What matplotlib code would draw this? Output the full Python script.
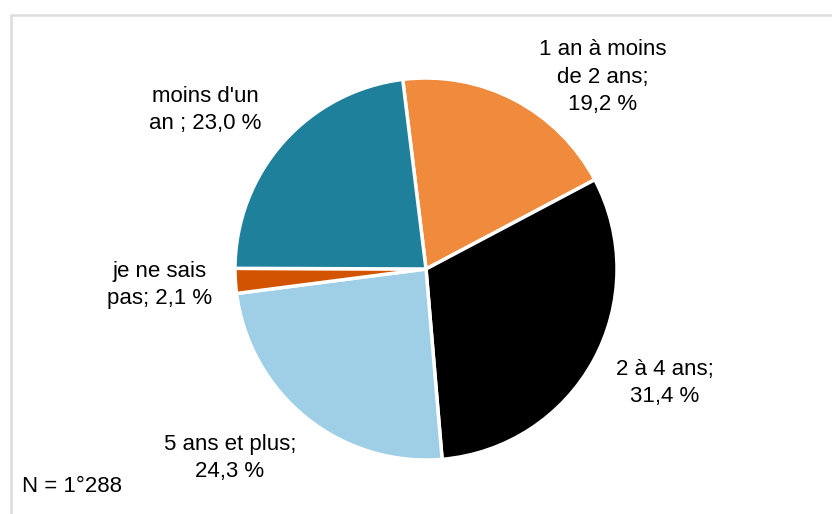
import matplotlib.pyplot as plt
from matplotlib.patches import Rectangle

# Données (ordre du graphique, sens horaire depuis le haut)
categories = ["1 an à moins\nde 2 ans;", "2 à 4 ans;", "5 ans et plus;",
              "je ne sais\npas;", "moins d'un\nan ;"]
valeurs = [19.2, 31.4, 24.3, 2.1, 23.0]
couleurs = ["#F08A3C", "#000000", "#9ECFE6", "#D35400", "#1F809B"]
# valeur sur une nouvelle ligne ou non
saut_ligne = [True, True, True, False, False]
note_n = "N = 1\u00b0288"

# position des étiquettes (en pixels, origine en haut à gauche)
pos_etiquettes = [(603, 77), (665, 383), (230, 458), (160, 285), (205, 110)]

W, H = 832, 514
fig = plt.figure(figsize=(W / 100, H / 100), dpi=100)
ax = fig.add_axes([0, 0, 1, 1])
ax.set_aspect("equal")
ax.axis("off")

ax.pie(valeurs, colors=couleurs, startangle=97, counterclock=False,
       center=(426, H - 269), radius=191,
       wedgeprops=dict(edgecolor="white", linewidth=2.5))
ax.set_xlim(0, W)
ax.set_ylim(0, H)

police = "Liberation Sans"
for cat, val, nl, (px, py) in zip(categories, valeurs, saut_ligne, pos_etiquettes):
    sep = "\n" if nl else " "
    txt = f"{cat}{sep}{val:.1f} %".replace(".", ",")
    ax.text(px, H - py, txt, ha="center", va="center", fontsize=16,
            family=police, linespacing=1.38, color="black")

ax.text(22, H - 487, note_n, ha="left", va="center", fontsize=16,
        family=police, color="black")

# cadre gris clair
fig.patches.append(Rectangle((10.5 / W, -0.1), 1.2, (H - 14.5) / H + 0.1,
                             transform=fig.transFigure, fill=False,
                             edgecolor="#DCDCDC", linewidth=1.8))

fig.savefig("out.png", dpi=100)
